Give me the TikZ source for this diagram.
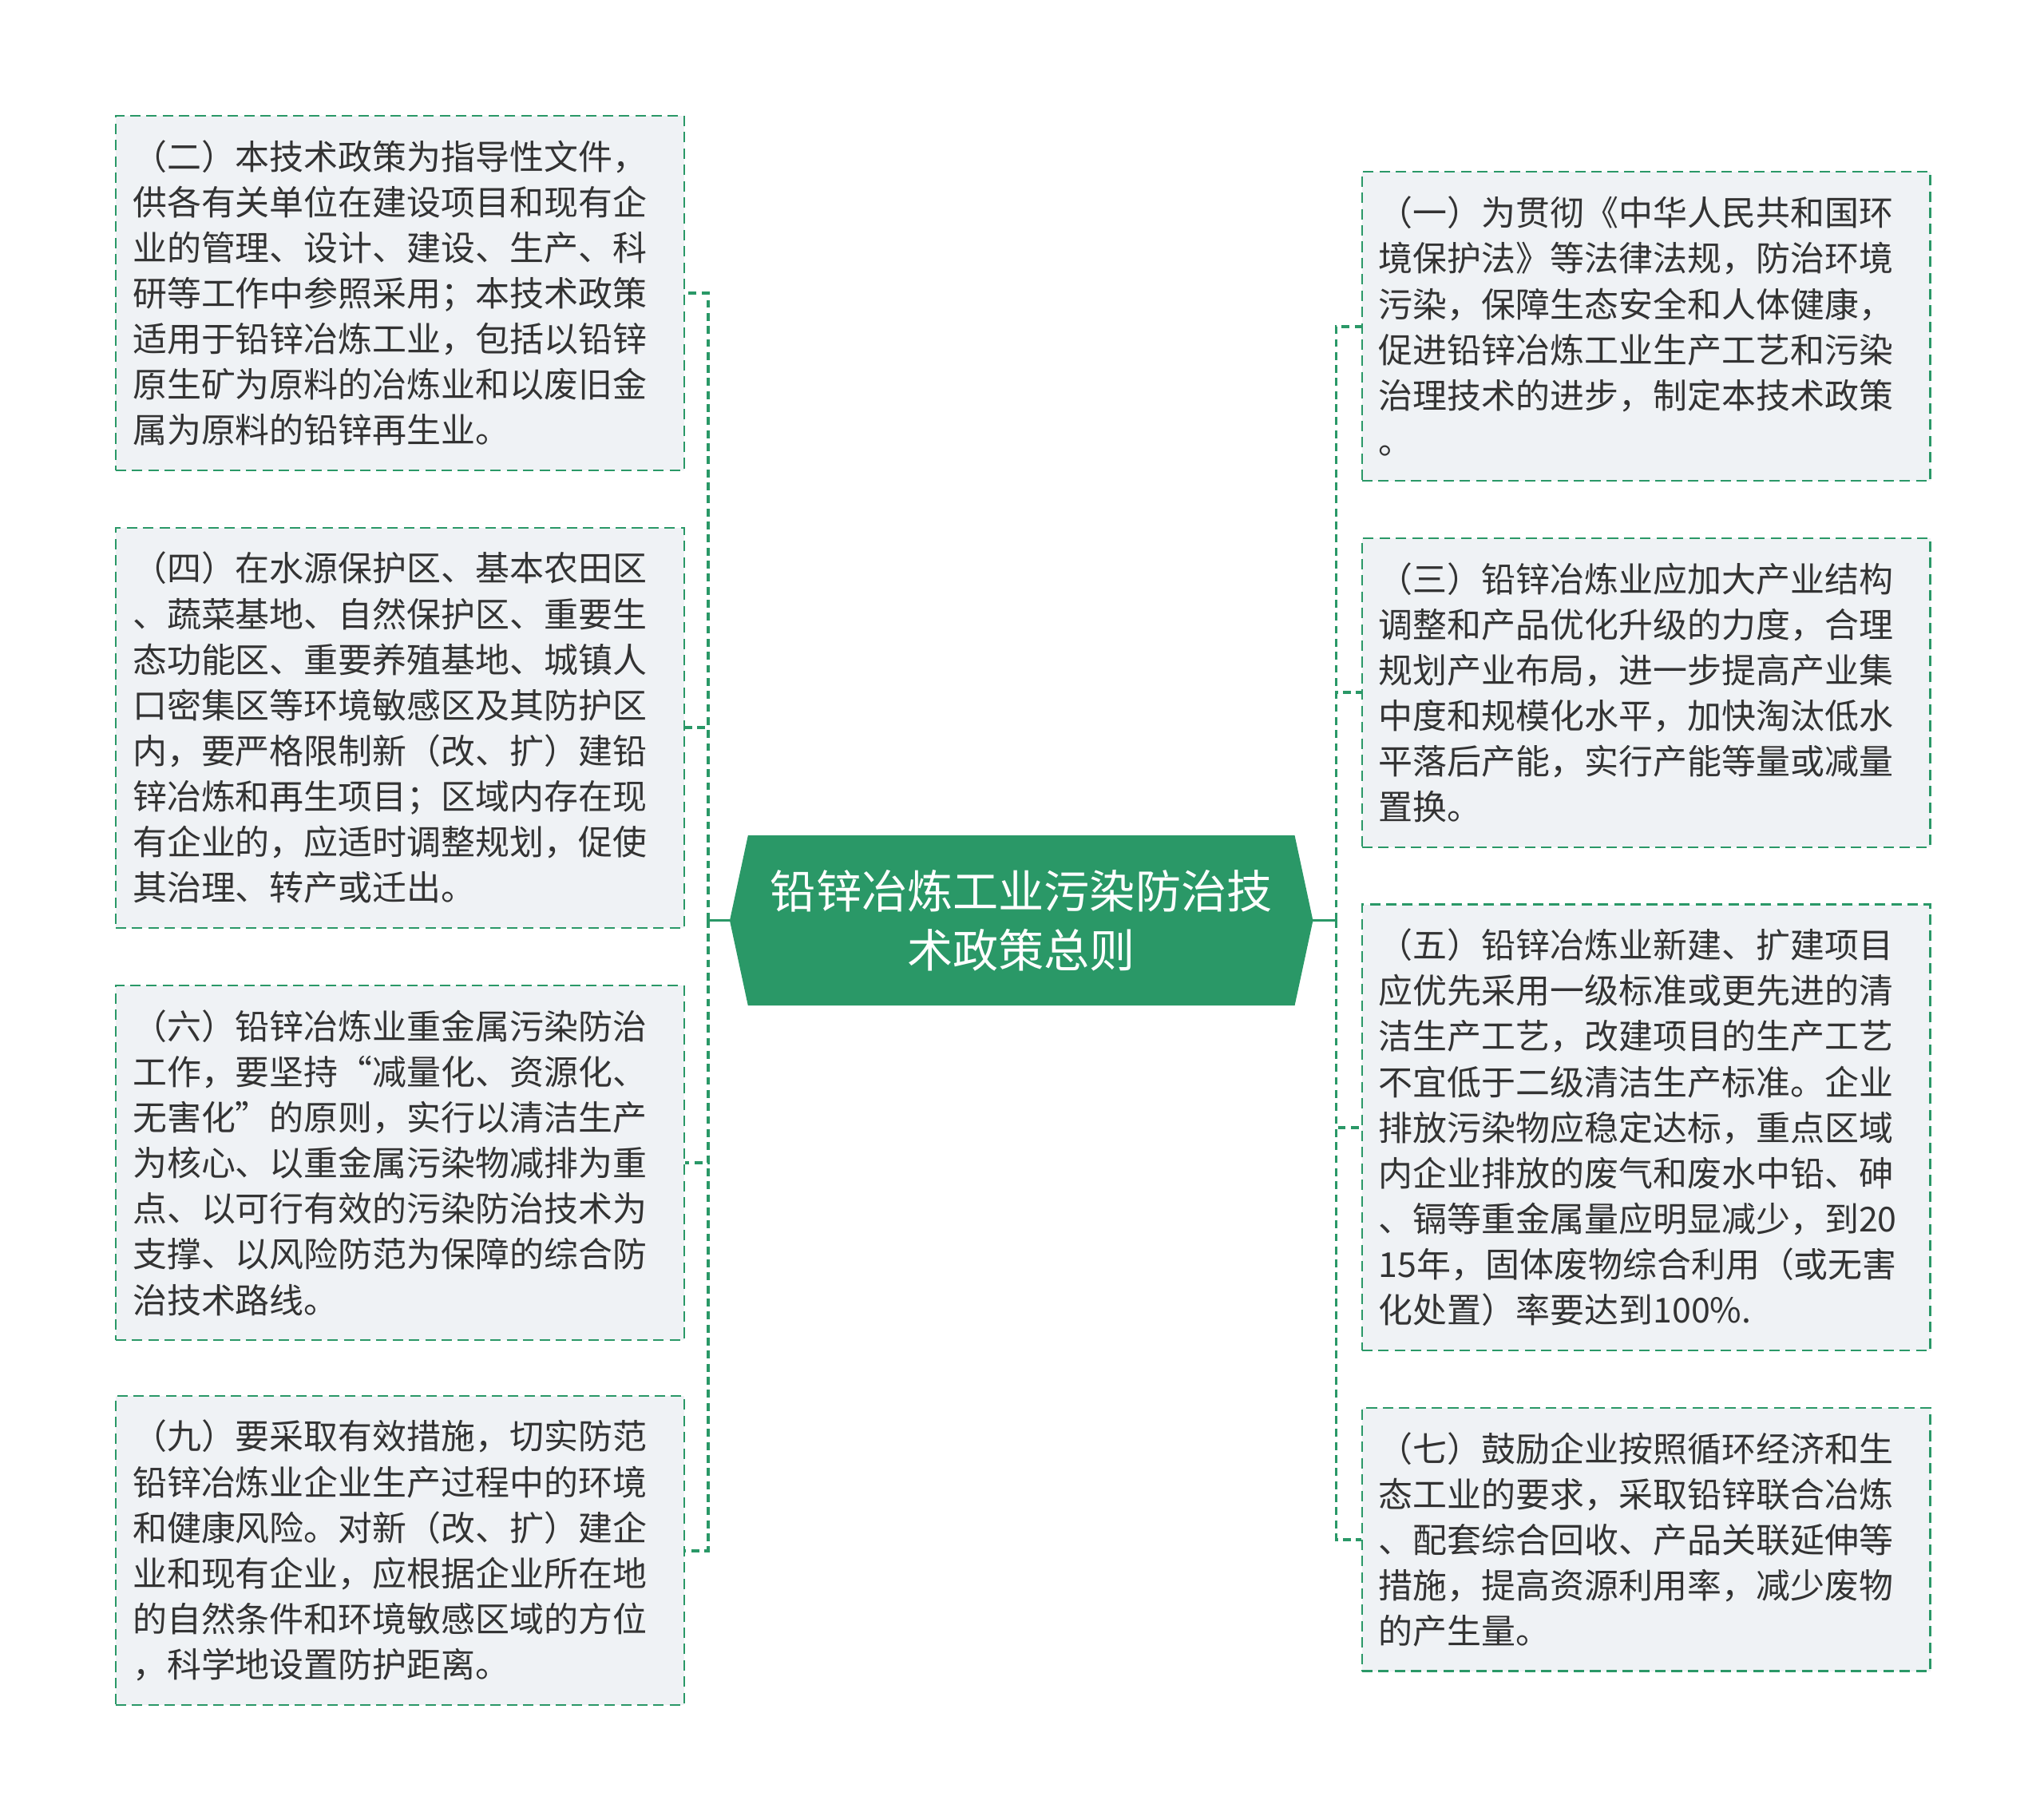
\documentclass[tikz,border=0pt]{standalone}
\usepackage{fontspec}
\setmainfont{Noto Sans CJK SC}
\usetikzlibrary{backgrounds}
\definecolor{gr}{HTML}{2A9867}
\definecolor{boxfill}{HTML}{EFF2F5}
\definecolor{txt}{HTML}{333333}
\tikzset{
  leaf/.style={draw=gr, dash pattern=on 8pt off 4.5pt, line width=1.5pt, fill=boxfill,
    text width=410pt, inner xsep=13pt, inner ysep=0pt, align=left, anchor=north west,
    text=txt, font=\fontsize{26.3}{35}\selectfont},
  rootnode/.style={minimum width=447pt, minimum height=130pt, inner sep=0pt, align=center,
    text=white, font=\fontsize{35}{45}\selectfont},
  solidc/.style={draw=gr, line width=2.2pt},
  dconn/.style={draw=gr, line width=2.4pt, dash pattern=on 6pt off 4pt}
}
\begin{document}
\begin{tikzpicture}[x=1pt,y=-1pt]
\useasboundingbox (0,0) rectangle (1568,1395.3);

% root
\node[rootnode] (c) at (783.5,706) {铅锌冶炼工业污染防治技\\术政策总则};
\begin{scope}[on background layer]
\fill[gr] ([xshift=14pt]c.north west) -- ([xshift=-14pt]c.north east) -- (c.east)
  -- ([xshift=-14pt]c.south east) -- ([xshift=14pt]c.south west) -- (c.west) -- cycle;
\end{scope}

% left boxes
\node[leaf, minimum height=272pt] (b2) at (88,88) {（二）本技术政策为指导性文件，\\供各有关单位在建设项目和现有企\\业的管理、设计、建设、生产、科\\研等工作中参照采用；本技术政策\\适用于铅锌冶炼工业，包括以铅锌\\原生矿为原料的冶炼业和以废旧金\\属为原料的铅锌再生业。};
\node[leaf, minimum height=307pt] (b4) at (88,404) {（四）在水源保护区、基本农田区\\、蔬菜基地、自然保护区、重要生\\态功能区、重要养殖基地、城镇人\\口密集区等环境敏感区及其防护区\\内，要严格限制新（改、扩）建铅\\锌冶炼和再生项目；区域内存在现\\有企业的，应适时调整规划，促使\\其治理、转产或迁出。};
\node[leaf, minimum height=272pt] (b6) at (88,755) {（六）铅锌冶炼业重金属污染防治\\工作，要坚持“减量化、资源化、\\无害化”的原则，实行以清洁生产\\为核心、以重金属污染物减排为重\\点、以可行有效的污染防治技术为\\支撑、以风险防范为保障的综合防\\治技术路线。};
\node[leaf, minimum height=237pt] (b9) at (88,1070) {（九）要采取有效措施，切实防范\\铅锌冶炼业企业生产过程中的环境\\和健康风险。对新（改、扩）建企\\业和现有企业，应根据企业所在地\\的自然条件和环境敏感区域的方位\\，科学地设置防护距离。};

% right boxes
\node[leaf, minimum height=237pt] (b1) at (1044,131) {（一）为贯彻《中华人民共和国环\\境保护法》等法律法规，防治环境\\污染，保障生态安全和人体健康，\\促进铅锌冶炼工业生产工艺和污染\\治理技术的进步，制定本技术政策\\。};
\node[leaf, minimum height=237pt] (b3) at (1044,412) {（三）铅锌冶炼业应加大产业结构\\调整和产品优化升级的力度，合理\\规划产业布局，进一步提高产业集\\中度和规模化水平，加快淘汰低水\\平落后产能，实行产能等量或减量\\置换。};
\node[leaf, minimum height=342pt] (b5) at (1044,693) {（五）铅锌冶炼业新建、扩建项目\\应优先采用一级标准或更先进的清\\洁生产工艺，改建项目的生产工艺\\不宜低于二级清洁生产标准。企业\\排放污染物应稳定达标，重点区域\\内企业排放的废气和废水中铅、砷\\、镉等重金属量应明显减少，到20\\15年，固体废物综合利用（或无害\\化处置）率要达到100\%.};
\node[leaf, minimum height=202pt] (b7) at (1044,1079) {（七）鼓励企业按照循环经济和生\\态工业的要求，采取铅锌联合冶炼\\、配套综合回收、产品关联延伸等\\措施，提高资源利用率，减少废物\\的产生量。};

% connectors
\coordinate (lj) at (543,706);
\coordinate (rj) at (1025,706);
\draw[solidc] (c.west) -- (lj);
\draw[solidc] (c.east) -- (rj);
\foreach \b in {b2,b4,b6,b9} { \draw[dconn] (lj) |- (\b.east); }
\foreach \b in {b1,b3,b5,b7} { \draw[dconn] (rj) |- (\b.west); }
\end{tikzpicture}
\end{document}
